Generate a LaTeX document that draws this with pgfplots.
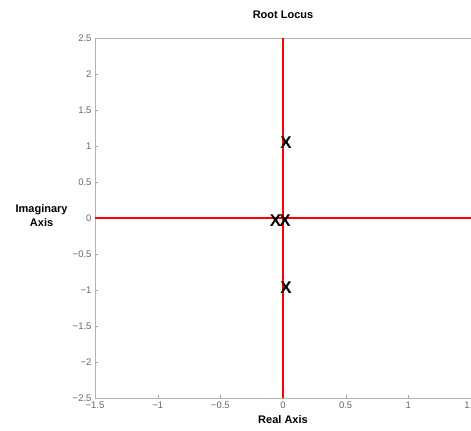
\documentclass[border=0pt]{standalone}
\usepackage{fontspec}
\setmainfont{Liberation Sans}
\setsansfont{Liberation Sans}
\usepackage{pgfplots}
\pgfplotsset{compat=1.18}
\begin{document}
\begin{tikzpicture}
\begin{axis}[
  scale only axis,
  width=376pt, height=360pt,
  xmin=-1.5, xmax=1.5, ymin=-2.5, ymax=2.5,
  xtick={-1.5,-1,-0.5,0,0.5,1,1.5},
  xticklabels={−1.5,−1,−0.5,0,0.5,1,1.5},
  ytick={-2.5,-2,-1.5,-1,-0.5,0,0.5,1,1.5,2,2.5},
  yticklabels={−2.5,−2,−1.5,−1,−0.5,0,0.5,1,1.5,2,2.5},
  ticklabel style={font=\fontsize{9.5}{10}\selectfont, text=black!60},
  axis line style={black!30},
  tick style={black!35},
  major tick length=3pt,
  tick align=inside,
  xtick pos=bottom, ytick pos=left,
  title={\textbf{Root Locus}},
  title style={font=\fontsize{11}{12}\selectfont, at={(axis description cs:0.5,1)}, yshift=10pt, anchor=south},
  xlabel={\textbf{Real Axis}},
  xlabel style={font=\fontsize{11}{12}\selectfont, yshift=0pt},
  ylabel={\textbf{Imaginary}\\\textbf{Axis}},
  ylabel style={font=\fontsize{11}{14}\selectfont, rotate=-90, align=center, at={(axis description cs:-0.142,0.507)}, anchor=center},
  clip=false,
]
\addplot[red, line width=1.3pt] coordinates {(0,-2.5) (0,2.5)};
\addplot[red, line width=1.3pt] coordinates {(-1.5,0) (1.5,0)};
\addplot[only marks, mark=text, text mark={\fontsize{17}{17}\selectfont\textbf{X}}] coordinates {
  (0.024,1.046) (0.024,-0.968) (-0.06,-0.03) (0.016,-0.03)
};
\end{axis}
\pgfresetboundingbox
\path[use as bounding box] ([xshift=-95pt,yshift=-33pt]current axis.south west) rectangle ([yshift=38pt]current axis.north east);
\end{tikzpicture}
\end{document}
